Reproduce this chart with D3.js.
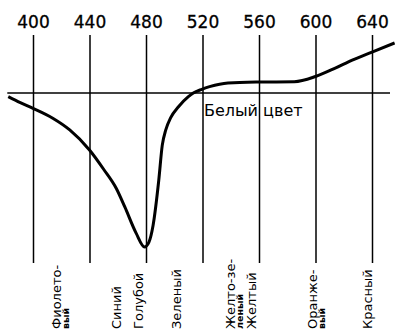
<!DOCTYPE html>
<html><head><meta charset="utf-8">
<script src="https://cdn.jsdelivr.net/npm/d3@7"></script>
<style>
html,body{margin:0;padding:0;background:#fff;}
svg{display:block;}
</style></head>
<body>
<svg id="chart" width="395" height="334"></svg>
<script>
// wavelength (nm) of the curve samples
const wavelengths = [382.5, 391, 400, 414, 426, 440, 450, 459, 465, 473, 479, 482, 485, 489, 491.5, 494, 497.5, 503, 510, 513.5, 519.5, 525, 538, 559, 585, 600, 614, 626, 640, 656];
// relative value (0 = white line)
const values = [-2.4, -6.3, -10, -16.4, -24, -37, -49.5, -62, -74, -91, -100, -97, -86, -57, -34, -24, -16, -8.9, -2.4, 0, 2.4, 4.1, 6.5, 7.1, 7.3, 10.7, 16.2, 21.4, 26.6, 32.5];
// tick labels on top
const tickValues = [400, 440, 480, 520, 560, 600, 640];
// colour names at the bottom (first line, second line, wavelength position)
const colorNames = ["Фиолето-", "Синий", "Голубой", "Зеленый", "Желто-зе-", "Желтый", "Оранже-", "Красный"];
const colorNames2 = ["вый", "", "", "", "леный", "", "вый", ""];
const colorWaves = [420, 462, 478, 505, 543, 558, 601, 640];
const whiteLabel = "Белый цвет";

const svg = d3.select("#chart");
const x = d3.scaleLinear().domain([400, 640]).range([33, 372]);
const y = d3.scaleLinear().domain([-100, 0]).range([247, 93]);

const lineTop = 35, lineBottom = 263;

// vertical grid lines with labels on top
const axis = d3.axisTop(x).tickValues(tickValues).tickFormat(d3.format("d"))
  .tickSizeInner(-(lineBottom - lineTop)).tickSizeOuter(0).tickPadding(7);
const ag = svg.append("g").attr("transform", `translate(0,${lineTop})`).call(axis);
ag.select(".domain").remove();
ag.selectAll(".tick line").attr("stroke", "#000").attr("stroke-width", 1.5);
ag.selectAll(".tick text").attr("fill", "#000").attr("stroke", "#000").attr("stroke-width", 0.3)
  .style("font-family", "DejaVu Sans, sans-serif").style("font-size", "17px");

// horizontal white line
svg.append("line")
  .attr("x1", x(wavelengths[0]) - 1).attr("x2", 390)
  .attr("y1", y(0)).attr("y2", y(0))
  .attr("stroke", "#000").attr("stroke-width", 1.5);

// curve
const line = d3.line().x((d, i) => x(wavelengths[i])).y(d => y(d)).curve(d3.curveMonotoneX);
svg.append("path").datum(values).attr("d", line)
  .attr("fill", "none").attr("stroke", "#000").attr("stroke-width", 3).attr("stroke-linejoin", "round");

// white label
svg.append("text").attr("x", x(521)).attr("y", 116).text(whiteLabel)
  .style("font-family", "DejaVu Sans, sans-serif").style("font-size", "16px").attr("fill", "#000");

// bottom rotated labels
const lg = svg.selectAll("g.lab").data(colorNames).join("g").attr("class", "lab")
  .attr("transform", (d, i) => `translate(${x(colorWaves[i])},329) rotate(-90)`);
lg.append("text").text(d => d).attr("x", 0).attr("y", 0)
  .style("font-family", "DejaVu Sans, sans-serif").style("font-size", "13px").attr("fill", "#000");
lg.append("text").text((d, i) => colorNames2[i]).attr("x", 0).attr("y", 8)
  .style("font-family", "DejaVu Sans, sans-serif").style("font-size", "9.5px").style("font-weight", "bold").attr("fill", "#000");
</script>
</body></html>
